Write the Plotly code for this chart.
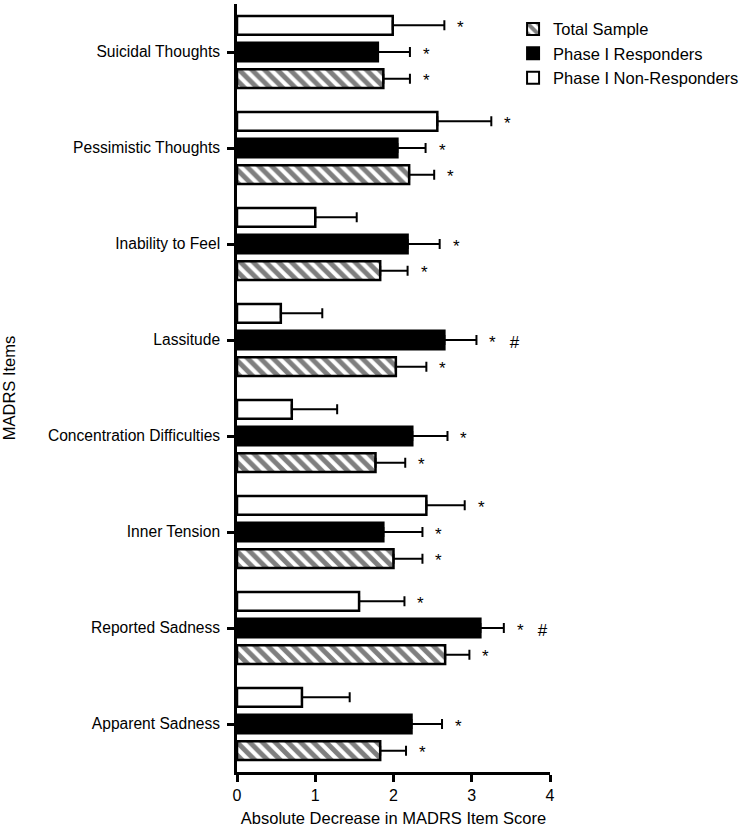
import plotly.graph_objects as go

categories = ["Apparent Sadness", "Reported Sadness", "Inner Tension",
              "Concentration Difficulties", "Lassitude", "Inability to Feel",
              "Pessimistic Thoughts", "Suicidal Thoughts"]

total_vals = [1.83, 2.66, 2.00, 1.77, 2.03, 1.83, 2.20, 1.87]
total_err = [0.33, 0.31, 0.37, 0.38, 0.39, 0.35, 0.32, 0.34]
total_sig = ["*", "*", "*", "*", "*", "*", "*", "*"]

resp_vals = [2.23, 3.11, 1.87, 2.24, 2.65, 2.18, 2.05, 1.80]
resp_err = [0.39, 0.30, 0.50, 0.45, 0.41, 0.41, 0.36, 0.41]
resp_sig = ["*", "*   #", "*", "*", "*   #", "*", "*", "*"]

nonresp_vals = [0.83, 1.56, 2.42, 0.70, 0.56, 1.00, 2.56, 1.99]
nonresp_err = [0.61, 0.58, 0.49, 0.58, 0.53, 0.53, 0.69, 0.66]
nonresp_sig = ["", "*", "*", "", "", "", "*", "*"]

x_ticks = [0, 1, 2, 3, 4]

FONT = "Liberation Sans, Arial, sans-serif"
BARGAP = 0.167
slot = (1 - BARGAP) / 3

fig = go.Figure()

series = [
    ("Total Sample", total_vals, total_err, total_sig,
     dict(color="white", pattern=dict(shape="\\", fgcolor="black", bgcolor="white", size=9, solidity=0.55))),
    ("Phase I Responders", resp_vals, resp_err, resp_sig, dict(color="black")),
    ("Phase I Non-Responders", nonresp_vals, nonresp_err, nonresp_sig, dict(color="white")),
]

for name, vals, errs, sig, mk in series:
    mk = dict(mk)
    mk["line"] = dict(color="black", width=2.5)
    fig.add_trace(go.Bar(
        name=name, y=categories, x=vals, orientation="h",
        marker=mk,
        error_x=dict(type="data", array=errs, symmetric=False, arrayminus=[0] * len(errs),
                     color="black", thickness=2, width=5),
    ))

offsets = [-slot, 0, slot]
for (name, vals, errs, sig, mk), off in zip(series, offsets):
    for i, (v, e, s) in enumerate(zip(vals, errs, sig)):
        if s:
            fig.add_annotation(x=v + e, y=i + off, text=s, showarrow=False,
                               xanchor="left", yanchor="middle", xshift=11, yshift=-2,
                               font=dict(family=FONT, size=17, color="black"))

fig.update_layout(
    width=750, height=829,
    margin=dict(l=237, r=200, t=4, b=57, autoexpand=False),
    paper_bgcolor="white", plot_bgcolor="white",
    barmode="group", bargap=BARGAP, bargroupgap=0.3,
    font=dict(family=FONT, size=15.6, color="black"),
    showlegend=True,
    legend=dict(x=0.882, y=0.99, xanchor="left", yanchor="top", traceorder="normal",
                font=dict(family=FONT, size=16.5, color="black"), bgcolor="rgba(0,0,0,0)",
                itemsizing="constant"),
    xaxis=dict(range=[0, 4], tickvals=x_ticks, showgrid=False, zeroline=False,
               showline=True, linecolor="black", linewidth=2.5, automargin=False,
               ticks="outside", ticklen=7, tickwidth=2.5, tickcolor="black",
               tickfont=dict(size=16),
               title=dict(text="Absolute Decrease in MADRS Item Score", font=dict(size=16.5), standoff=10)),
    yaxis=dict(range=[-0.5, 7.5], showgrid=False, zeroline=False,
               showline=True, linecolor="black", linewidth=2.5, automargin=False,
               ticks="outside", ticklen=7, tickwidth=2.5, tickcolor="black",
               tickfont=dict(size=15.6), ticklabelstandoff=4,
               title=dict(text="MADRS Items", font=dict(size=16.5), standoff=30)),
)

fig.write_html("out.html", post_script="document.body.style.margin='0';",
               config={"displayModeBar": False})
